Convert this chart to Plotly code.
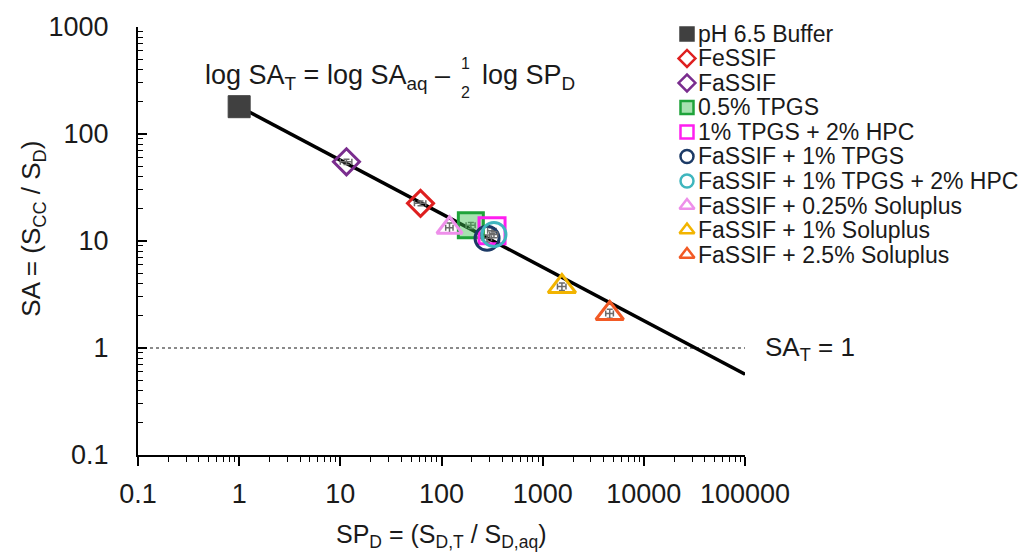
import numpy as np
import plotly.graph_objects as go

# Solubility advantage (SA) vs. drug solubilization power (SP_D) per medium
media = [
    "pH 6.5 Buffer",
    "FeSSIF",
    "FaSSIF",
    "0.5% TPGS",
    "1% TPGS + 2% HPC",
    "FaSSIF + 1% TPGS",
    "FaSSIF + 1% TPGS + 2% HPC",
    "FaSSIF + 0.25% Soluplus",
    "FaSSIF + 1% Soluplus",
    "FaSSIF + 2.5% Soluplus",
]
sp_d = [1.0, 62, 11.5, 195, 316, 282, 330, 120, 1550, 4600]
sa = [180, 22.5, 55, 14.0, 12.5, 10.6, 11.5, 13.3, 3.75, 2.1]
sp_err = [0.0, 8, 1.5, 20, 30, 30, 30, 10, 150, 400]
sa_err = [0.0, 1.2, 3.0, 0.9, 0.8, 0.8, 0.8, 1.4, 0.3, 0.2]

# Model line: log SA_T = log SA_aq - 1/2 log SP_D
sa_aq = 180
sp_line = [1.0, 1e5]
sa_target = 1.0
x_range = [0.1, 1e5]

symbols = ["square", "diamond-open", "diamond-open", "square", "square-open",
           "circle-open", "circle-open", "triangle-up-open", "triangle-up-open",
           "triangle-up-open"]
line_colors = ["#404040", "#DE1F1F", "#7A2D8E", "#1FA33A", "#FF1EF0",
               "#1C3A66", "#3FB6BE", "#EE8FEA", "#F2B400", "#F25A25"]
fill_colors = ["#404040", "white", "white", "rgba(60,190,80,0.45)", "white",
               "white", "white", "white", "white", "white"]
sizes = [22, 20, 20, 25, 26, 24, 24, 22, 24, 24]

FONT = "Liberation Sans, Arial, sans-serif"
TXT = "#1a1a1a"

fig = go.Figure()

# SA_T = 1 reference
fig.add_trace(go.Scatter(
    x=x_range, y=[sa_target, sa_target], mode="lines",
    line=dict(color="#8a8a8a", width=2, dash="dot"),
    hoverinfo="skip", showlegend=False))

# model line
fig.add_trace(go.Scatter(
    x=sp_line, y=[sa_aq * s ** -0.5 for s in sp_line], mode="lines",
    line=dict(color="black", width=3.5), hoverinfo="skip", showlegend=False))

for i, name in enumerate(media):
    fig.add_trace(go.Scatter(
        x=[sp_d[i]], y=[sa[i]], mode="markers", name=name, showlegend=False,
        marker=dict(symbol=symbols[i], size=sizes[i],
                    color=fill_colors[i] if "open" not in symbols[i] else line_colors[i],
                    line=dict(color=line_colors[i], width=3 if i else 1)),
        error_x=dict(type="data", array=[sp_err[i]], color="#6b6b6b",
                     thickness=1.5, width=3, visible=bool(sp_err[i])),
        error_y=dict(type="data", array=[sa_err[i]], color="#6b6b6b",
                     thickness=1.5, width=3, visible=bool(sa_err[i])),
    ))

# legend drawn on an overlay axis in plot-fraction units
n = len(media)
row_y = [(455 - (29 + 24.8 * i)) / 433 for i in range(n)]
leg_x = (687 - 138) / 607
txt_x = (696 - 138) / 607
fig.add_trace(go.Scatter(
    x=[leg_x] * n, y=row_y, mode="markers", xaxis="x2", yaxis="y2",
    showlegend=False, hoverinfo="skip", cliponaxis=False,
    marker=dict(symbol=[s.replace("-open", "") for s in symbols], size=13,
                color=fill_colors, line=dict(color=line_colors, width=2.5))))

annotations = []
for i, name in enumerate(media):
    annotations.append(dict(
        x=txt_x, y=row_y[i], xref="paper", yref="paper", text=name,
        showarrow=False, xanchor="left", yanchor="middle",
        font=dict(family=FONT, size=23, color=TXT)))

# equation
eq_y = (455 - 73) / 433
annotations += [
    dict(x=(452 - 138) / 607, y=eq_y, xref="paper", yref="paper",
         text="log SA<sub>T</sub> = log SA<sub>aq</sub> \u2013",
         showarrow=False, xanchor="right", yanchor="middle",
         font=dict(family=FONT, size=27, color=TXT)),
    dict(x=(465 - 138) / 607, y=(455 - 59) / 433, xref="paper", yref="paper",
         text="1", showarrow=False, xanchor="center", yanchor="middle",
         font=dict(family=FONT, size=16, color=TXT)),
    dict(x=(465 - 138) / 607, y=(455 - 88) / 433, xref="paper", yref="paper",
         text="2", showarrow=False, xanchor="center", yanchor="middle",
         font=dict(family=FONT, size=16, color=TXT)),
    dict(x=(480 - 138) / 607, y=eq_y, xref="paper", yref="paper",
         text="log SP<sub>D</sub>",
         showarrow=False, xanchor="left", yanchor="middle",
         font=dict(family=FONT, size=27, color=TXT)),
    dict(x=(763 - 138) / 607, y=np.log10(sa_target), xref="paper", yref="y",
         text="SA<sub>T</sub> = 1", showarrow=False, xanchor="left",
         yanchor="middle", font=dict(family=FONT, size=26, color=TXT)),
    dict(x=(33 - 138) / 607, y=(455 - 226) / 433, xref="paper", yref="paper",
         text="SA = (S<sub>CC</sub> / S<sub>D</sub>)", textangle=-90,
         showarrow=False, xanchor="center", yanchor="middle",
         font=dict(family=FONT, size=26, color=TXT)),
    dict(x=0.5, y=(455 - 537) / 433, xref="paper", yref="paper",
         text="SP<sub>D</sub> = (S<sub>D,T</sub> / S<sub>D,aq</sub>)",
         showarrow=False, xanchor="center", yanchor="middle",
         font=dict(family=FONT, size=25, color=TXT)),
]

minor_vals = [m * 10.0 ** e for e in range(-1, 5) for m in range(2, 10)]
major_x = [0.1, 1, 10, 100, 1000, 10000, 100000]
major_y = [0.1, 1, 10, 100, 1000]

fig.update_layout(
    width=1034, height=555,
    margin=dict(l=138, r=289, t=22, b=100),
    plot_bgcolor="white", paper_bgcolor="white",
    font=dict(family=FONT, size=27, color=TXT),
    showlegend=False,
    annotations=annotations,
    xaxis=dict(type="log", range=[-1, 5], tickvals=major_x,
               ticktext=["0.1", "1", "10", "100", "1000", "10000", "100000"],
               ticks="outside", ticklen=9, tickwidth=1.5, tickcolor="black",
               showline=True, linecolor="black", linewidth=2,
               showgrid=False, zeroline=False, ticklabelstandoff=5,
               minor=dict(tickvals=minor_vals, ticks="outside", ticklen=5,
                          tickwidth=1.2, tickcolor="black", showgrid=False)),
    yaxis=dict(type="log", range=[-1, 3], tickvals=major_y,
               ticktext=["0.1", "1", "10", "100", "1000"],
               ticks="inside", ticklen=9, tickwidth=1.5, tickcolor="black",
               showline=True, linecolor="black", linewidth=2,
               showgrid=False, zeroline=False, ticklabelstandoff=22,
               minor=dict(tickvals=minor_vals, ticks="inside", ticklen=5,
                          tickwidth=1.2, tickcolor="black", showgrid=False)),
    xaxis2=dict(overlaying="x", anchor="y2", range=[0, 1], visible=False,
                fixedrange=True),
    yaxis2=dict(overlaying="y", anchor="x2", range=[0, 1], visible=False,
                fixedrange=True),
)

fig.write_html("out.html")
